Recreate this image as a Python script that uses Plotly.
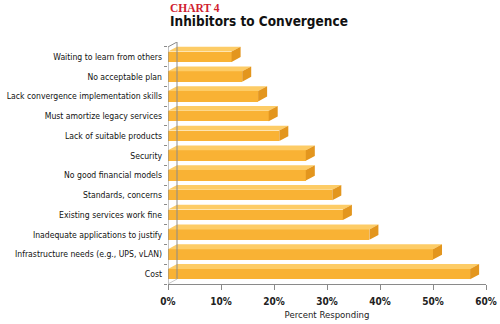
import plotly.graph_objects as go

# Data (top-to-bottom as in the chart)
categories = [
    "Waiting to learn from others",
    "No acceptable plan",
    "Lack convergence implementation skills",
    "Must amortize legacy services",
    "Lack of suitable products",
    "Security",
    "No good financial models",
    "Standards, concerns",
    "Existing services work fine",
    "Inadequate applications to justify",
    "Infrastructure needs (e.g., UPS, vLAN)",
    "Cost",
]
values = [12, 14, 17, 19, 21, 26, 26, 31, 33, 38, 50, 57]
x_ticks = [0, 10, 20, 30, 40, 50, 60]

# bottom-to-top order for plotting
cats = categories[::-1]
vals = values[::-1]
idx = list(range(len(cats)))

FRONT = "#F9B234"
TOP = "#FDCC66"
SIDE = "#E3961E"
AXIS = "#8a8a8a"
FONT = "DejaVu Sans Condensed, DejaVu Sans, sans-serif"

w = 0.53      # front face thickness (category units)
dx = 1.7      # depth offset along x (percent units)
dy = 0.25     # depth offset along y (category units)

fig = go.Figure()

# front faces
fig.add_trace(go.Bar(
    y=idx, x=vals, orientation="h", width=w,
    marker=dict(color=FRONT, line=dict(width=0)),
    hoverinfo="skip", showlegend=False,
))

# top faces
tx, ty = [], []
for i, v in zip(idx, vals):
    t = i + w / 2
    tx += [0, v, v + dx, dx, 0, None]
    ty += [t, t, t + dy, t + dy, t, None]
fig.add_trace(go.Scatter(x=tx, y=ty, mode="lines", fill="toself",
                         fillcolor=TOP, line=dict(width=0, color=TOP),
                         hoverinfo="skip", showlegend=False))

# end caps
sx, sy = [], []
for i, v in zip(idx, vals):
    b, t = i - w / 2, i + w / 2
    sx += [v, v, v + dx, v + dx, v, None]
    sy += [b, t, t + dy, b + dy, b, None]
fig.add_trace(go.Scatter(x=sx, y=sy, mode="lines", fill="toself",
                         fillcolor=SIDE, line=dict(width=0, color=SIDE),
                         hoverinfo="skip", showlegend=False))

n = len(cats)
ymin, ytop = -0.5, n - 0.5
shapes = [
    dict(type="line", xref="x", yref="y", x0=0, x1=0, y0=ymin, y1=ytop,
         line=dict(color=AXIS, width=1)),
    dict(type="line", xref="x", yref="y", x0=0, x1=dx, y0=ytop, y1=ytop + dy,
         line=dict(color=AXIS, width=1)),
    dict(type="line", xref="x", yref="y", x0=dx, x1=dx, y0=ymin + dy, y1=ytop + dy,
         line=dict(color=AXIS, width=1)),
    dict(type="line", xref="x", yref="y", x0=0, x1=dx, y0=ymin, y1=ymin + dy,
         line=dict(color="#c8c8c8", width=1)),
]
fig.update_layout(shapes=shapes)

fig.update_layout(
    width=500, height=324,
    margin=dict(l=168, r=14, t=42, b=40, autoexpand=False),
    paper_bgcolor="white", plot_bgcolor="white",
    bargap=0,
    xaxis=dict(range=[0, 60], tickvals=x_ticks,
               ticktext=[f"{t}%" for t in x_ticks],
               showgrid=False, zeroline=False, automargin=False,
               showline=True, linecolor=AXIS, linewidth=1,
               ticks="outside", ticklen=5, tickcolor=AXIS,
               ticklabelstandoff=3,
               tickfont=dict(family=FONT, size=10, color="#222", weight="bold"),
               title=dict(text="Percent Responding",
                          font=dict(family=FONT, size=9.5, color="#222"),
                          standoff=5)),
    yaxis=dict(range=[ymin, ytop + dy], tickvals=idx, ticktext=cats,
               showgrid=False, zeroline=False, showline=False, automargin=False,
               ticks="", ticklabelstandoff=5,
               tickfont=dict(family=FONT, size=8.6, color="#111")),
    yaxis2=dict(range=[ymin, ytop + dy], overlaying="y", side="left",
                tickvals=[i - 0.5 for i in range(n + 1)], automargin=False,
                showticklabels=False, ticks="outside", ticklen=3,
                tickcolor=AXIS, showgrid=False, zeroline=False),
    font=dict(family=FONT),
)

fig.add_trace(go.Scatter(x=[None], y=[None], yaxis="y2", showlegend=False,
                         hoverinfo="skip"))

fig.add_annotation(text="<b>CHART 4</b>", xref="paper", yref="paper",
                   x=0, y=1, xanchor="left", yanchor="middle", yshift=34,
                   showarrow=False,
                   font=dict(family="Liberation Serif, DejaVu Serif, serif",
                             size=11.5, color="#D0202E"))
fig.add_annotation(text="<b>Inhibitors to Convergence</b>", xref="paper", yref="paper",
                   x=0, y=1, xanchor="left", yanchor="middle", yshift=21,
                   showarrow=False,
                   font=dict(family=FONT, size=13.5, color="#111"))

fig.write_html("out.html")
